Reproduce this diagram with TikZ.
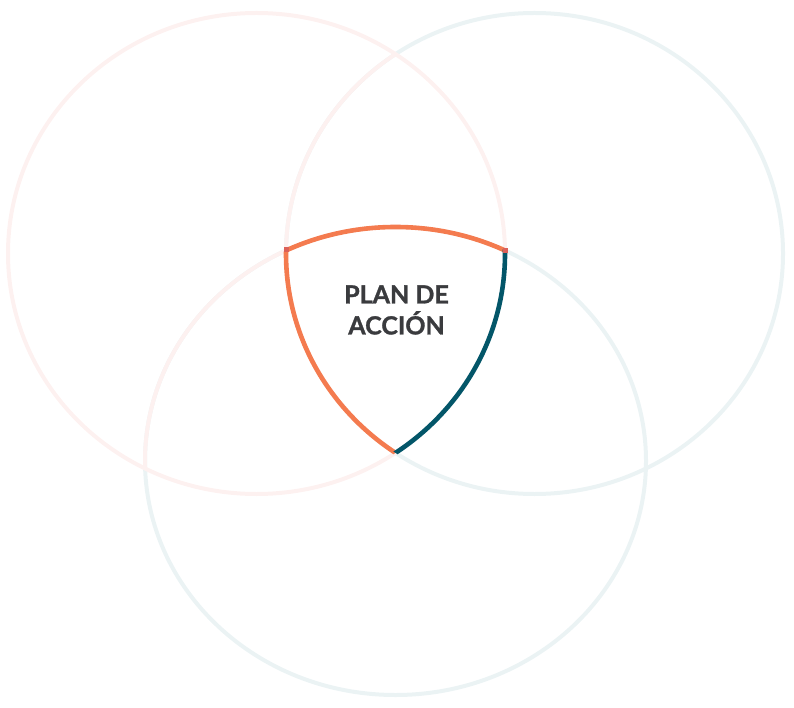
\documentclass[tikz,border=0pt]{standalone}
\usepackage{fontspec}
\newfontfamily\latofont{Lato}[BoldFeatures={FakeBold=1.2}]
\definecolor{palepink}{HTML}{FDF1F0}
\definecolor{paleblue}{HTML}{EBF3F4}
\definecolor{shieldorange}{HTML}{F47B4F}
\definecolor{shieldteal}{HTML}{035669}
\definecolor{cornerred}{HTML}{DC6158}
\definecolor{textgrey}{HTML}{3A3B3E}
\tikzset{
  palering/.style={line width=4pt},
  shieldline/.style={line width=4.6pt},
  titletext/.style={font=\latofont\bfseries\fontsize{25}{31}\selectfont, text=textgrey, align=center, inner sep=0pt}
}
\begin{document}
\begin{tikzpicture}[x=1pt,y=-1pt]
\useasboundingbox (0,0) rectangle (794,708);
\coordinate (lc) at (256.5,253.5);
\coordinate (rc) at (534.5,253.5);
\coordinate (bc) at (395.5,461);
% pale rings
\draw[palering, paleblue] (rc) ellipse [x radius=248.5, y radius=240.5];
\draw[palering, paleblue] (bc) ellipse [x radius=250.5, y radius=234];
\draw[palering, palepink] (lc) ellipse [x radius=248.5, y radius=240.5];
\begin{scope}
  \clip (lc) ellipse [x radius=248.5, y radius=240.5];
  \draw[palering, palepink] (rc) ellipse [x radius=248.5, y radius=240.5];
  \draw[palering, palepink] (bc) ellipse [x radius=250.5, y radius=234];
\end{scope}
% shield: left arc (right ring)
\begin{scope}
  \clip (lc) ellipse [x radius=248.5, y radius=240.5];
  \clip (bc) ellipse [x radius=250.5, y radius=234];
  \draw[shieldline, shieldorange] (rc) ellipse [x radius=248.5, y radius=240.5];
\end{scope}
% shield: top arc (bottom ring)
\begin{scope}
  \clip (lc) ellipse [x radius=248.5, y radius=240.5];
  \clip (rc) ellipse [x radius=248.5, y radius=240.5];
  \draw[shieldline, shieldorange] (bc) ellipse [x radius=250.5, y radius=234];
\end{scope}
% shield: right arc (left ring)
\begin{scope}
  \clip (rc) ellipse [x radius=248.5, y radius=240.5];
  \clip (bc) ellipse [x radius=250.5, y radius=234];
  \draw[shieldline, shieldteal] (lc) ellipse [x radius=248.5, y radius=240.5];
\end{scope}
% corner marks
\fill[cornerred] (284,247.5) rectangle (288.5,252.5);
\fill[cornerred] (502.5,248) rectangle (507.5,253);
\node[titletext] (title) at (396.5,310) {PLAN DE\\ACCIÓN};
\end{tikzpicture}
\end{document}
